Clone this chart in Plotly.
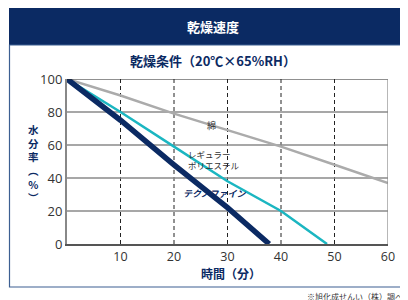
import plotly.graph_objects as go

# Data
time_cotton = [0, 10, 20, 30, 40, 50, 60]
cotton = [100, 90, 79, 69, 59, 48, 37]
time_poly = [0, 10, 20, 30, 40, 48.6]
poly = [100, 80, 59, 38, 20, 0]
time_techno = [0, 10, 20, 30, 37.8]
techno = [100, 75, 48, 22, 0]

x_ticks = [10, 20, 30, 40, 50, 60]
y_ticks = [0, 20, 40, 60, 80, 100]

NAVY = "#0b2a63"
TEAL = "#1bb6c1"
GRAY = "#ababab"
JP = "Noto Sans CJK JP"

fig = go.Figure()
fig.add_trace(go.Scatter(x=time_cotton, y=cotton, mode="lines",
                         line=dict(color=GRAY, width=2.5), showlegend=False))
fig.add_trace(go.Scatter(x=time_poly, y=poly, mode="lines",
                         line=dict(color=TEAL, width=2.5), showlegend=False))
fig.add_trace(go.Scatter(x=time_techno, y=techno, mode="lines",
                         line=dict(color=NAVY, width=5.5), showlegend=False))

# screen-pixel -> paper conversion (page body has 8px offset; plot area 67..388 x 79..244)
def px_x(px):
    return (px - 67) / 321

def px_y(py):
    return (244 - py) / 165

shapes = []
for xv in [10, 20, 30, 40, 50]:
    shapes.append(dict(type="line", xref="x", yref="y", x0=xv, x1=xv, y0=0, y1=100,
                       line=dict(color="#222", width=1, dash="4px,3px"), layer="below"))
for yv in [20, 40, 60, 80]:
    shapes.append(dict(type="line", xref="x", yref="y", x0=0, x1=60, y0=yv, y1=yv,
                       line=dict(color="#8a8a8a", width=1.5), layer="below"))
shapes.append(dict(type="line", xref="x", yref="y", x0=0, x1=60, y0=100, y1=100,
                   line=dict(color="#222", width=1.2)))
shapes.append(dict(type="line", xref="x", yref="y", x0=60, x1=60, y0=0, y1=100,
                   line=dict(color="#888", width=1.2)))
shapes.append(dict(type="rect", xref="paper", yref="paper",
                   x0=px_x(9), x1=px_x(430), y0=px_y(45), y1=px_y(8),
                   fillcolor=NAVY, line=dict(width=0), layer="below"))
shapes.append(dict(type="rect", xref="paper", yref="paper",
                   x0=px_x(9.5), x1=px_x(430), y0=px_y(287), y1=px_y(45),
                   fillcolor="rgba(0,0,0,0)", line=dict(color="#3d5f92", width=1.2), layer="below"))

def ann(text, px, py, size, color, xanchor="center", align="center"):
    return dict(text=text, xref="paper", yref="paper", x=px_x(px), y=px_y(py),
                xanchor=xanchor, yanchor="middle", showarrow=False, align=align,
                font=dict(family=JP, size=size, color=color))

annotations = [
    ann("<b>乾燥速度</b>", 213, 27, 13, "white"),
    ann("<b>乾燥条件（20℃×65%RH）</b>", 213, 61, 13, NAVY),
    ann("<b>時間（分）</b>", 231, 273, 12, NAVY),
    ann("綿", 211, 125, 9, "#333"),
    ann("レギュラー<br>ポリエステル", 186, 159.5, 8.5, "#333", "left", "left"),
    ann("<b><i>テクノファイン</i></b>", 181, 193, 9, NAVY, "left"),
    ann("※旭化成せんい（株）調べ", 305, 296, 8, "#333", "left"),
    ann("<b>水<br>分<br>率<br>︵<br>%<br>︶</b>", 33, 163, 10.5, NAVY),
]

fig.update_layout(
    width=400, height=292,
    margin=dict(l=59, r=20, t=71, b=56),
    paper_bgcolor="white", plot_bgcolor="white",
    shapes=shapes, annotations=annotations,
    xaxis=dict(range=[0, 60], tickvals=x_ticks, showgrid=False, zeroline=False,
               showline=True, linecolor="#555", linewidth=2,
               ticks="", tickfont=dict(family="Open Sans", size=12.5, color="#333")),
    yaxis=dict(range=[0, 100], tickvals=y_ticks, showgrid=False, zeroline=False,
               showline=True, linecolor="#888", linewidth=2,
               ticks="", tickfont=dict(family="Open Sans", size=13, color="#333")),
)

fig.write_html("out.html")
